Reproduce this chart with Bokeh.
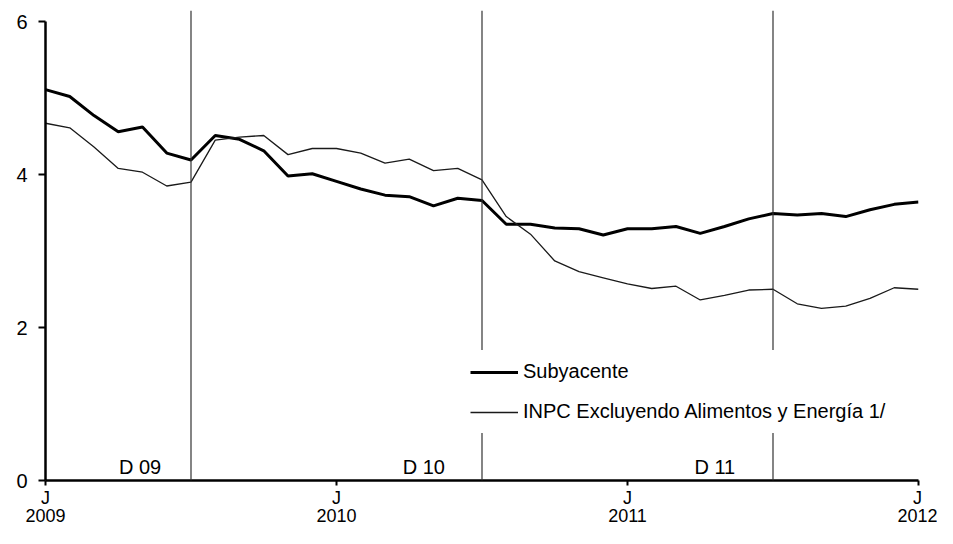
from bokeh.plotting import figure
from bokeh.models import Range1d, FixedTicker, Span, Legend, LegendItem, ColumnDataSource
from bokeh.embed import file_html
from bokeh.resources import INLINE
from bokeh.core.properties import value

# Monthly observations, January 2009 (0) to January 2012 (36)
meses = list(range(37))
subyacente = [5.11, 5.02, 4.77, 4.56, 4.62, 4.28, 4.19, 4.51, 4.46, 4.31, 3.98, 4.01,
              3.91, 3.81, 3.73, 3.71, 3.59, 3.69, 3.66, 3.35, 3.35, 3.30, 3.29, 3.21,
              3.29, 3.29, 3.32, 3.23, 3.32, 3.42, 3.49, 3.47, 3.49, 3.45, 3.54, 3.61,
              3.64]
inpc_sin_ae = [4.67, 4.61, 4.36, 4.08, 4.03, 3.85, 3.90, 4.45, 4.49, 4.51, 4.26, 4.34,
               4.34, 4.28, 4.15, 4.20, 4.05, 4.08, 3.93, 3.45, 3.22, 2.87, 2.73, 2.65,
               2.57, 2.51, 2.54, 2.36, 2.42, 2.49, 2.50, 2.31, 2.25, 2.28, 2.38, 2.52,
               2.50]

x_ticks = [0, 12, 24, 36]
x_tick_labels = ["J\n2009", "J\n2010", "J\n2011", "J\n2012"]
y_ticks = [0, 2, 4, 6]
cortes = [6, 18, 30]
etiquetas_d = ["D 09", "D 10", "D 11"]
etiquetas_d_x = [3.9, 15.6, 27.6]
etiquetas_d_y = [0.18, 0.18, 0.18]

FONT = "Liberation Sans"

p = figure(width=937, height=528, output_backend="svg", toolbar_location=None,
           x_range=Range1d(0, 36), y_range=Range1d(0, 6.144),
           min_border_left=45, min_border_right=19, min_border_top=10, min_border_bottom=44)
p.outline_line_color = None
p.xgrid.visible = False
p.ygrid.visible = False
p.background_fill_color = "white"

for c in cortes:
    p.add_layout(Span(location=c, dimension="height", line_color="#333333", line_width=1.2))

r1 = p.line(meses, subyacente, line_color="black", line_width=3)
r2 = p.line(meses, inpc_sin_ae, line_color="#1a1a1a", line_width=1.3)

src_d = ColumnDataSource(dict(x=etiquetas_d_x, y=etiquetas_d_y, t=etiquetas_d))
p.text(x="x", y="y", text="t", source=src_d, text_font=value(FONT), text_font_size="20px",
       text_align="center", text_baseline="alphabetic", text_color="black")

# axes
p.xaxis.ticker = FixedTicker(ticks=x_ticks)
p.xaxis.major_label_overrides = {t: l for t, l in zip(x_ticks, x_tick_labels)}
p.xaxis.minor_tick_line_color = None
p.xaxis.axis_line_width = 2.5
p.xaxis.axis_line_color = "black"
p.xaxis.major_tick_line_width = 2
p.xaxis.major_tick_in = 0
p.xaxis.major_tick_out = 5
p.xaxis.major_label_standoff = 2
p.xaxis.major_label_text_font = FONT
p.xaxis.major_label_text_font_size = "18px"
p.xaxis.major_label_text_line_height = 0.9
p.xaxis.major_label_text_color = "black"

p.yaxis.ticker = FixedTicker(ticks=y_ticks)
p.yaxis.bounds = (0, 6)
p.yaxis.minor_tick_line_color = None
p.yaxis.axis_line_width = 2.5
p.yaxis.axis_line_color = "black"
p.yaxis.major_tick_line_width = 2
p.yaxis.major_tick_in = 0
p.yaxis.major_tick_out = 7
p.yaxis.major_label_standoff = 11
p.yaxis.major_label_text_font = FONT
p.yaxis.major_label_text_font_size = "20px"
p.yaxis.major_label_text_color = "black"

legend = Legend(items=[LegendItem(label="Subyacente", renderers=[r1]),
                       LegendItem(label="INPC Excluyendo Alimentos y Energía 1/", renderers=[r2])],
                location=(415, 47), border_line_alpha=0, background_fill_color="white",
                background_fill_alpha=1, label_text_font=FONT, label_text_font_size="20px",
                label_text_color="black",
                glyph_width=48, glyph_height=20, label_height=20, spacing=17, padding=10,
                label_standoff=5, margin=0)
p.add_layout(legend, "center")

open("out.html", "w").write(file_html(p, INLINE))
